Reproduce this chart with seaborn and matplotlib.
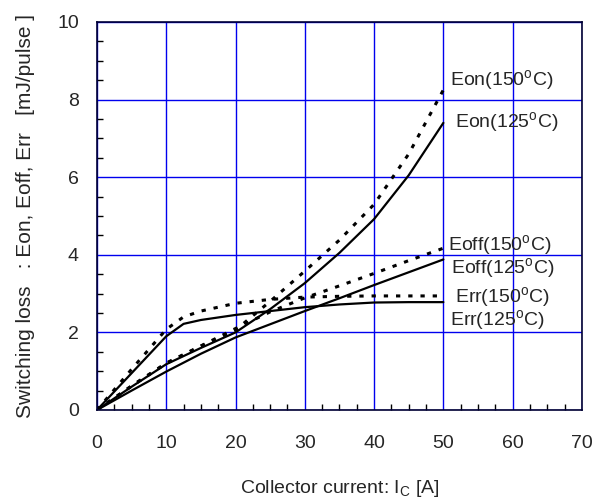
import numpy as np
import pandas as pd
import seaborn as sns
import matplotlib.pyplot as plt
from matplotlib.ticker import MultipleLocator

# values
ic = [0, 5, 10, 15, 20, 25, 30, 35, 40, 45, 50]
eon_125 = [0, 0.6, 1.18, 1.6, 2.0, 2.6, 3.27, 4.05, 4.92, 6.05, 7.4]
eon_150 = [0, 0.62, 1.21, 1.65, 2.06, 2.8, 3.58, 4.38, 5.3, 6.6, 8.25]
eoff_125 = [0, 0.5, 0.99, 1.45, 1.87, 2.21, 2.55, 2.88, 3.22, 3.55, 3.88]
eoff_150 = [0, 0.62, 1.2, 1.65, 2.1, 2.53, 2.89, 3.2, 3.52, 3.85, 4.17]

ic_rr = [0, 5, 10, 12.5, 15, 20, 25, 30, 35, 40, 45, 50]
err_125 = [0, 0.95, 1.9, 2.22, 2.32, 2.45, 2.55, 2.65, 2.72, 2.77, 2.78, 2.78]
err_150 = [0, 1.05, 2.08, 2.4, 2.55, 2.75, 2.85, 2.91, 2.93, 2.94, 2.94, 2.94]

labels = ["Eon(150$^{\\rm o}$C)", "Eon(125$^{\\rm o}$C)", "Eoff(150$^{\\rm o}$C)",
          "Eoff(125$^{\\rm o}$C)", "Err(150$^{\\rm o}$C)", "Err(125$^{\\rm o}$C)"]
label_pos = [(50.9, 8.5), (51.7, 7.4), (50.7, 4.24), (51.1, 3.64), (51.7, 2.89), (51.0, 2.3)]

sns.set_style("ticks")
plt.rcParams['font.family'] = ['Liberation Sans', 'DejaVu Sans']
plt.rcParams['mathtext.fontset'] = 'custom'
plt.rcParams['mathtext.rm'] = 'Liberation Sans'

fig = plt.figure(figsize=(5.95, 5.0), dpi=100)
ax = fig.add_axes([0.163, 0.18, 0.815, 0.776])

dot = (0, (1.4, 2.6))
sns.lineplot(x=ic, y=eon_150, ax=ax, color="black", lw=2.2, linestyle=dot)
sns.lineplot(x=ic, y=eon_125, ax=ax, color="black", lw=1.6)
sns.lineplot(x=ic, y=eoff_150, ax=ax, color="black", lw=2.2, linestyle=dot)
sns.lineplot(x=ic, y=eoff_125, ax=ax, color="black", lw=1.6)
sns.lineplot(x=ic_rr, y=err_150, ax=ax, color="black", lw=2.2, linestyle=dot)
sns.lineplot(x=ic_rr, y=err_125, ax=ax, color="black", lw=1.6)

for txt, (tx, ty) in zip(labels, label_pos):
    ax.text(tx, ty, txt, fontsize=14, va="center", ha="left")

ax.set_xlim(0, 70)
ax.set_ylim(0, 10)
ax.xaxis.set_major_locator(MultipleLocator(10))
ax.yaxis.set_major_locator(MultipleLocator(2))
ax.xaxis.set_minor_locator(MultipleLocator(2.5))
ax.yaxis.set_minor_locator(MultipleLocator(0.5))
ax.tick_params(which="major", length=0, labelsize=14)
ax.tick_params(axis="x", which="major", pad=18)
ax.tick_params(axis="y", which="major", pad=13)
ax.tick_params(which="minor", direction="in", length=4, width=1, color="black")
ax.grid(True, which="major", color="#0000ee", lw=1)
for s in ax.spines.values():
    s.set_color("#000033")
    s.set_linewidth(1.2)

ax.set_xlabel("Collector current: I$_{\\rm C}$ [A]", fontsize=14, labelpad=19)
ax.set_ylabel("Switching loss   : Eon, Eoff, Err   [mJ/pulse ]", fontsize=15, labelpad=16)

fig.savefig("out.png", dpi=100)
